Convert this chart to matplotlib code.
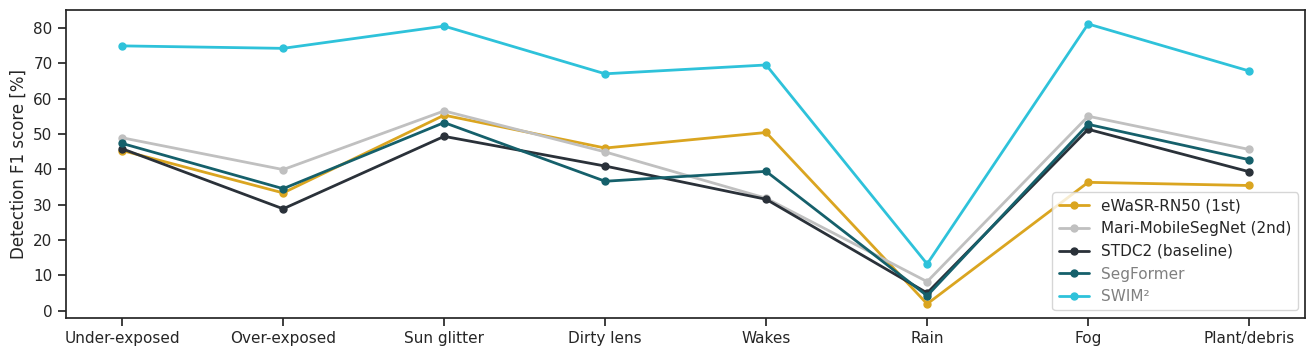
import matplotlib
matplotlib.use("Agg")
import matplotlib.pyplot as plt
import numpy as np
import seaborn as sns

categories = ["Under-exposed", "Over-exposed", "Sun glitter", "Dirty lens",
              "Wakes", "Rain", "Fog", "Plant/debris"]

ewasr = [45.3, 33.3, 55.3, 46.0, 50.4, 1.9, 36.3, 35.4]
mari = [48.9, 39.9, 56.5, 44.9, 31.8, 8.2, 55.0, 45.6]
stdc2 = [45.8, 28.8, 49.3, 40.9, 31.5, 5.0, 51.3, 39.3]
segformer = [47.3, 34.5, 53.2, 36.6, 39.4, 4.2, 52.7, 42.7]
swim2 = [74.9, 74.2, 80.5, 67.0, 69.5, 13.2, 81.1, 67.8]

series = [
    ("eWaSR-RN50 (1st)", ewasr, "#DAA520"),
    ("Mari-MobileSegNet (2nd)", mari, "#C0C0C0"),
    ("STDC2 (baseline)", stdc2, "#2A3139"),
    ("SegFormer", segformer, "#15606B"),
    ("SWIM\u00b2", swim2, "#2EC2DA"),
]
grey_labels = {"SegFormer", "SWIM\u00b2"}

sns.set_theme(style="ticks", context="notebook")

fig, ax = plt.subplots(figsize=(13.16, 3.56), dpi=100)
x = np.arange(len(categories))
for name, vals, color in series:
    ax.plot(x, vals, marker="o", ms=5, lw=2, color=color, label=name)

ax.set_xticks(x)
ax.set_xticklabels(categories)
ax.set_ylabel("Detection F1 score [%]")
ax.set_yticks(np.arange(0, 81, 10))

leg = ax.legend(loc="lower right")
for txt in leg.get_texts():
    if txt.get_text() in grey_labels:
        txt.set_color("gray")

fig.subplots_adjust(left=0.05, right=0.992, top=0.972, bottom=0.107)
fig.savefig("out.png", dpi=100)
